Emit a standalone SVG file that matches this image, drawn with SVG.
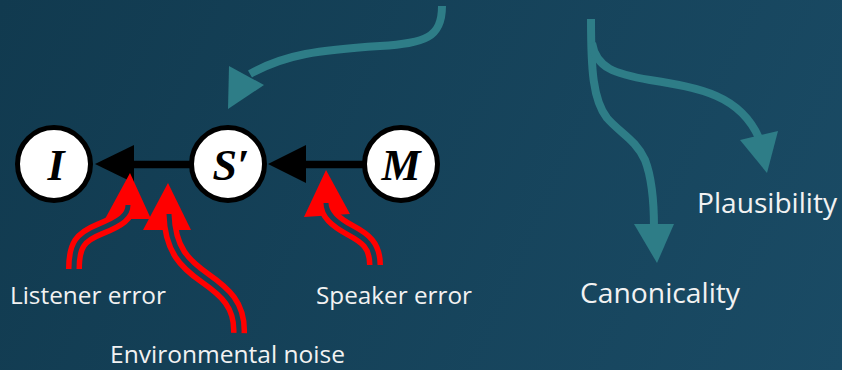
<svg xmlns="http://www.w3.org/2000/svg" width="842" height="370" viewBox="0 0 842 370">
  <defs>
    <linearGradient id="bg" x1="0" y1="0" x2="842" y2="370" gradientUnits="userSpaceOnUse">
      <stop offset="0" stop-color="#113a4f"/>
      <stop offset="1" stop-color="#1a4b65"/>
    </linearGradient>
  </defs>
  <style>
    .node circle { fill: #ffffff; stroke: #000000; stroke-width: 5; }
    .node text { font-family: "Liberation Serif", "DejaVu Serif", serif; font-weight: bold; font-style: italic; font-size: 44px; fill: #000000; text-anchor: middle; }
    .edge-line { stroke: #000000; stroke-width: 7.5; fill: none; }
    .edge-head { fill: #000000; }
    .noise-outer { stroke: #ff0000; stroke-width: 16; fill: none; stroke-linecap: butt; }
    .noise-inner { stroke: #143f55; stroke-width: 5; fill: none; stroke-linecap: butt; }
    .noise-head { fill: #ff0000; }
    .flow { stroke: #2e7d87; stroke-width: 8; fill: none; stroke-linecap: butt; }
    .flow-head { fill: #2e7d87; }
    .label { font-family: "Open Sans", "Noto Sans", "Liberation Sans", sans-serif; fill: #f2f2f2; font-size: 24px; }
    .label-lg { font-size: 27px; }
  </style>

  <rect width="842" height="370" fill="url(#bg)"/>

  <g id="connectors">
    <!-- causal chain M -> S' -> I -->
    <g id="edge-S-I">
      <line class="edge-line" x1="132" y1="164.5" x2="192" y2="164.5"/>
      <polygon class="edge-head" points="95,164 134,145 134,183"/>
    </g>
    <g id="edge-M-S">
      <line class="edge-line" x1="304" y1="164.5" x2="366" y2="164.5"/>
      <polygon class="edge-head" points="268,164 306,145 306,183"/>
    </g>

    <!-- noise sources: double-line red arrows -->
    <g id="noise-listener">
      <path class="noise-outer" d="M74,269 C74,245 80,237 100,229 C120,221 128,215 128,205"/>
      <polygon class="noise-head" points="130,173 105,219 151,219"/>
      <path class="noise-inner" d="M74,269 C74,245 80,237 100,229 C120,221 128,215 128,205"/>
    </g>
    <g id="noise-environment">
      <path class="noise-outer" d="M239,333 C240,305 225,292 205,278 C185,264 170,250 169,214"/>
      <polygon class="noise-head" points="168,183 143,230 191,230"/>
      <path class="noise-inner" d="M239,333 C240,305 225,292 205,278 C185,264 170,250 169,214"/>
    </g>
    <g id="noise-speaker">
      <path class="noise-outer" d="M375,265 C375,245 365,238 350,230 C335,222 326,214 326,203"/>
      <polygon class="noise-head" points="326,170 304,217 350,214"/>
      <path class="noise-inner" d="M375,265 C375,245 365,238 350,230 C335,222 326,214 326,203"/>
    </g>

    <!-- teal flow arrows -->
    <g id="flow-in">
      <path class="flow" d="M442,6 C442,38 425,43 380,46 C320,50 285,54 250,74"/>
      <polygon class="flow-head" points="228,109 229,66 264,85"/>
    </g>
    <g id="flow-canonicality">
      <path class="flow" d="M591,19 C591,70 593,100 607,118 C620,133 636,140 645,160 C652,178 654,200 654,228"/>
      <polygon class="flow-head" points="634,224 674,224 657,263"/>
    </g>
    <g id="flow-plausibility">
      <path class="flow" d="M592,43 C596,68 615,74 650,80 C700,88 740,95 759,138"/>
      <polygon class="flow-head" points="740,140 778,131 767,173"/>
    </g>
  </g>

  <g id="node-I" class="node">
    <circle cx="54" cy="164" r="36.5"/>
    <text x="56" y="180">I</text>
  </g>
  <g id="node-S" class="node">
    <circle cx="228" cy="164" r="36.5"/>
    <text x="231" y="180">S′</text>
  </g>
  <g id="node-M" class="node">
    <circle cx="401" cy="164" r="36.5"/>
    <text x="401" y="180">M</text>
  </g>

  <g id="label-listener"><text class="label" x="10" y="304" textLength="156" lengthAdjust="spacingAndGlyphs">Listener error</text></g>
  <g id="label-speaker"><text class="label" x="316" y="304" textLength="156" lengthAdjust="spacingAndGlyphs">Speaker error</text></g>
  <g id="label-environment"><text class="label" x="110" y="363" textLength="235" lengthAdjust="spacingAndGlyphs">Environmental noise</text></g>
  <g id="label-canonicality"><text class="label label-lg" x="580" y="303" textLength="160" lengthAdjust="spacingAndGlyphs">Canonicality</text></g>
  <g id="label-plausibility"><text class="label label-lg" x="697" y="213" textLength="140" lengthAdjust="spacingAndGlyphs">Plausibility</text></g>
</svg>
